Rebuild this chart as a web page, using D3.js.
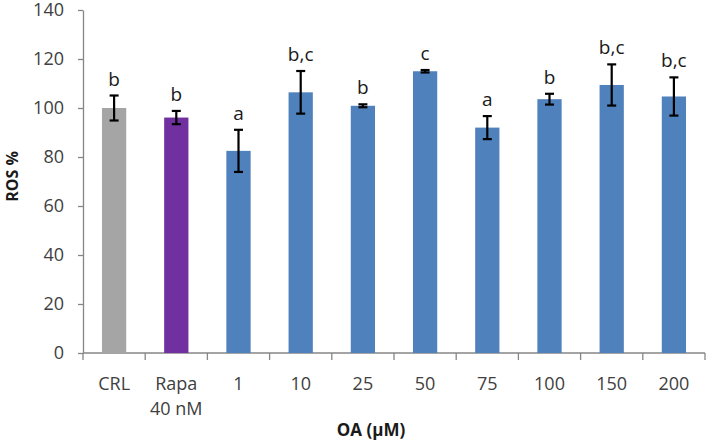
<!DOCTYPE html>
<html>
<head>
<meta charset="utf-8">
<script src="https://cdn.jsdelivr.net/npm/d3@7"></script>
<style>
  body { margin: 0; background: #fff; }
  text { font-family: "Open Sans", sans-serif; }
</style>
</head>
<body>
<div id="chart"></div>
<script>
// chart values
var categories = ["CRL", "Rapa\n40 nM", "1", "10", "25", "50", "75", "100", "150", "200"];
var means = [100, 96.1, 82.5, 106.4, 100.9, 115.0, 92.0, 103.6, 109.4, 104.7];
var errors = [5.1, 2.7, 8.6, 8.7, 0.6, 0.5, 4.7, 2.2, 8.4, 7.8];
var letters = ["b", "b", "a", "b,c", "b", "c", "a", "b", "b,c", "b,c"];
var barColors = ["#a5a5a5", "#7030a0", "#4f81bd", "#4f81bd", "#4f81bd", "#4f81bd", "#4f81bd", "#4f81bd", "#4f81bd", "#4f81bd"];
var yTicks = [0, 20, 40, 60, 80, 100, 120, 140];

// set the dimensions and margins of the graph
var margin = {top: 10, right: 3, bottom: 91, left: 83},
    width = 708 - margin.left - margin.right,
    height = 444 - margin.top - margin.bottom;

var svg = d3.select("#chart")
  .append("svg")
    .attr("width", 708)
    .attr("height", 444)
  .append("g")
    .attr("transform", "translate(" + margin.left + "," + margin.top + ")");

var x = d3.scaleBand()
  .domain(categories)
  .range([0, width])
  .paddingInner(0.61)
  .paddingOuter(0.305);

var xb = d3.scaleBand().domain(categories).range([0, width]);

var y = d3.scaleLinear()
  .domain([0, 140])
  .range([height, 0]);

// Y axis
var yAxis = svg.append("g")
  .call(d3.axisLeft(y).tickValues(yTicks).tickSize(5).tickPadding(14).tickSizeOuter(0));
yAxis.select(".domain").attr("stroke", "#868686").attr("stroke-width", 1.3);
yAxis.selectAll(".tick line").attr("stroke", "#868686").attr("stroke-width", 1.3);
yAxis.selectAll(".tick text")
  .attr("fill", "#404040")
  .style("font-size", "18px")
  .style("font-family", "'Open Sans', sans-serif");

// X axis: ticks at band boundaries
var xg = svg.append("g").attr("transform", "translate(0," + height + ")");
xg.append("line")
  .attr("x1", 0).attr("x2", width)
  .attr("stroke", "#868686").attr("stroke-width", 1.3);
var bounds = categories.map(function(c) { return xb(c); }).concat([width]);
xg.selectAll(".xtick")
  .data(bounds)
  .enter()
  .append("line")
    .attr("x1", function(d) { return d; })
    .attr("x2", function(d) { return d; })
    .attr("y1", 0).attr("y2", 7)
    .attr("stroke", "#868686").attr("stroke-width", 1.3);

xg.selectAll(".xlabel")
  .data(categories)
  .enter()
  .append("text")
    .attr("text-anchor", "middle")
    .attr("fill", "#404040")
    .style("font-size", "18px")
    .attr("transform", function(d) { return "translate(" + (xb(d) + xb.bandwidth() / 2) + ",37)"; })
    .each(function(d) {
      var parts = d.split("\n");
      var t = d3.select(this);
      parts.forEach(function(p, i) {
        t.append("tspan").attr("x", 0).attr("y", i * 25).text(p);
      });
    });

// bars
svg.selectAll(".bar")
  .data(categories)
  .enter()
  .append("rect")
    .attr("x", function(d) { return x(d); })
    .attr("width", x.bandwidth())
    .attr("y", function(d, i) { return y(means[i]); })
    .attr("height", function(d, i) { return height - y(means[i]); })
    .attr("fill", function(d, i) { return barColors[i]; });

// error bars
var eb = svg.selectAll(".err")
  .data(categories)
  .enter()
  .append("g")
    .attr("transform", function(d) { return "translate(" + (x(d) + x.bandwidth() / 2) + ",0)"; });

eb.append("line")
  .attr("y1", function(d, i) { return y(means[i] + errors[i]); })
  .attr("y2", function(d, i) { return y(means[i] - errors[i]); })
  .attr("stroke", "#000").attr("stroke-width", 2.2);
eb.append("line")
  .attr("x1", -4.5).attr("x2", 4.5)
  .attr("y1", function(d, i) { return y(means[i] + errors[i]); })
  .attr("y2", function(d, i) { return y(means[i] + errors[i]); })
  .attr("stroke", "#000").attr("stroke-width", 2.2);
eb.append("line")
  .attr("x1", -4.5).attr("x2", 4.5)
  .attr("y1", function(d, i) { return y(means[i] - errors[i]); })
  .attr("y2", function(d, i) { return y(means[i] - errors[i]); })
  .attr("stroke", "#000").attr("stroke-width", 2.2);

// significance letters
eb.append("text")
  .attr("text-anchor", "middle")
  .attr("y", function(d, i) { return y(means[i] + errors[i]) - 10; })
  .attr("fill", "#1a1a1a")
  .style("font-size", "19px")
  .text(function(d, i) { return letters[i]; });

// axis titles
svg.append("text")
  .attr("transform", "translate(-65," + (height / 2 - 5) + ") rotate(-90)")
  .attr("text-anchor", "middle")
  .attr("fill", "#1a1a1a")
  .style("font-size", "16px")
  .style("font-weight", "bold")
  .text("ROS %");

svg.append("text")
  .attr("x", 288)
  .attr("y", height + 83)
  .attr("text-anchor", "middle")
  .attr("fill", "#1a1a1a")
  .style("font-size", "17px")
  .style("font-weight", "bold")
  .text("OA (µM)");
</script>
</body>
</html>
